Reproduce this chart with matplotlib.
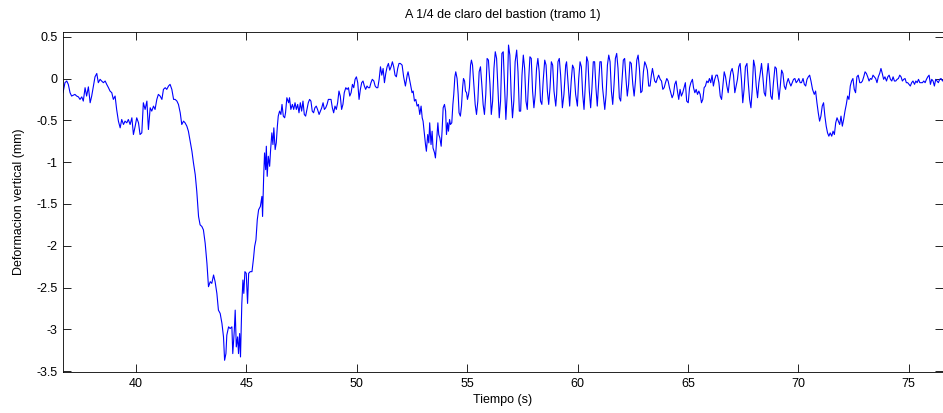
import matplotlib.pyplot as plt
import matplotlib as mpl
import numpy as np

mpl.rcParams['font.family'] = ['Liberation Sans', 'DejaVu Sans']
mpl.rcParams['font.size'] = 9

# tramo inicial (36.7 - 41.7 s)
t_inicio = [36.69, 36.78, 36.86, 36.93, 37.01, 37.08, 37.23, 37.31, 37.39, 37.46, 37.54, 37.61, 37.69,
            37.76, 37.84, 37.92, 37.99, 38.07, 38.14, 38.22, 38.29, 38.37, 38.44, 38.52, 38.60, 38.67,
            38.75, 38.82, 38.90, 38.97, 39.05, 39.12, 39.20, 39.28, 39.35, 39.43, 39.50, 39.58, 39.65,
            39.73, 39.81, 39.88, 39.96, 40.03, 40.11, 40.18, 40.26, 40.33, 40.41, 40.49, 40.56, 40.64,
            40.71, 40.79, 40.86, 40.94, 41.01, 41.09, 41.17, 41.24, 41.32, 41.39, 41.47, 41.54, 41.62,
            41.70]
d_inicio = [-0.17, -0.05, -0.03, -0.07, -0.17, -0.21, -0.19, -0.21, -0.22, -0.25, -0.22, -0.27, -0.11,
            -0.21, -0.10, -0.29, -0.21, -0.09, 0.02, 0.06, -0.05, -0.01, -0.03, -0.05, -0.03, -0.07,
            -0.11, -0.15, -0.17, -0.25, -0.21, -0.37, -0.51, -0.59, -0.49, -0.55, -0.51, -0.53, -0.49,
            -0.55, -0.47, -0.67, -0.57, -0.47, -0.53, -0.67, -0.65, -0.29, -0.37, -0.27, -0.61, -0.35,
            -0.39, -0.33, -0.37, -0.25, -0.19, -0.21, -0.25, -0.13, -0.11, -0.13, -0.09, -0.07, -0.13,
            -0.25]

# gran descenso (41.8 - 46.7 s)
t_valle = [41.77, 41.85, 41.92, 42.00, 42.07, 42.15, 42.22, 42.30, 42.37, 42.45, 42.53, 42.60, 42.68,
           42.75, 42.83, 42.90, 42.98, 43.05, 43.13, 43.21, 43.28, 43.36, 43.43, 43.51, 43.58, 43.66,
           43.73, 43.81, 43.89, 43.96, 44.01, 44.07, 44.11, 44.19, 44.26, 44.34, 44.38, 44.45, 44.49,
           44.54, 44.60, 44.64, 44.69, 44.73, 44.79, 44.84, 44.88, 44.93, 44.99, 45.05, 45.10, 45.17,
           45.25, 45.32, 45.37, 45.43, 45.49, 45.55, 45.63, 45.70, 45.73, 45.78, 45.82, 45.87, 45.90,
           45.94, 45.99, 46.05, 46.09, 46.15, 46.20, 46.24, 46.30, 46.35, 46.40, 46.44, 46.50, 46.56,
           46.61, 46.67, 46.73]
d_valle = [-0.25, -0.27, -0.31, -0.41, -0.55, -0.51, -0.53, -0.57, -0.63, -0.75, -0.87, -1.01, -1.15,
           -1.35, -1.65, -1.75, -1.77, -1.81, -1.97, -2.21, -2.49, -2.43, -2.45, -2.35, -2.43, -2.57,
           -2.77, -2.81, -2.93, -3.09, -3.37, -3.29, -3.07, -2.97, -2.99, -2.97, -3.29, -3.01, -2.77,
           -3.21, -3.09, -3.29, -3.05, -3.33, -2.69, -2.41, -2.57, -2.31, -2.33, -2.69, -2.33, -2.31,
           -2.31, -2.15, -2.01, -1.93, -1.69, -1.57, -1.53, -1.41, -1.65, -1.17, -0.89, -1.09, -0.81,
           -1.17, -0.93, -1.05, -0.87, -0.65, -0.79, -0.59, -0.85, -0.77, -0.57, -0.45, -0.39, -0.43,
           -0.31, -0.45, -0.47]

# recuperacion (46.8 - 52.0 s)
t_medio = [46.77, 46.83, 46.91, 46.95, 47.01, 47.08, 47.14, 47.20, 47.26, 47.32, 47.38, 47.44, 47.50,
           47.56, 47.62, 47.68, 47.74, 47.80, 47.86, 47.92, 47.98, 48.04, 48.10, 48.16, 48.22, 48.29,
           48.35, 48.41, 48.47, 48.53, 48.59, 48.65, 48.71, 48.77, 48.83, 48.89, 48.95, 49.01, 49.07,
           49.13, 49.19, 49.25, 49.31, 49.37, 49.43, 49.50, 49.56, 49.62, 49.68, 49.74, 49.80, 49.86,
           49.92, 49.98, 50.04, 50.10, 50.16, 50.22, 50.28, 50.34, 50.40, 50.46, 50.52, 50.58, 50.64,
           50.70, 50.77, 50.83, 50.89, 50.95, 51.01, 51.07, 51.13, 51.19, 51.25, 51.31, 51.37, 51.43,
           51.49, 51.55, 51.61, 51.67, 51.73, 51.79, 51.85, 51.91]
d_medio = [-0.41, -0.23, -0.29, -0.23, -0.37, -0.31, -0.37, -0.29, -0.37, -0.31, -0.41, -0.29, -0.39,
           -0.27, -0.43, -0.45, -0.37, -0.29, -0.25, -0.27, -0.39, -0.41, -0.35, -0.33, -0.37, -0.43,
           -0.39, -0.35, -0.29, -0.37, -0.35, -0.31, -0.25, -0.25, -0.25, -0.35, -0.41, -0.33, -0.37,
           -0.29, -0.15, -0.21, -0.37, -0.31, -0.17, -0.11, -0.13, -0.11, -0.21, -0.17, -0.07, -0.11,
           -0.01, 0.02, -0.05, -0.25, -0.13, -0.05, -0.03, -0.09, -0.13, -0.09, -0.11, -0.11, -0.05,
           -0.01, -0.03, -0.09, -0.11, -0.11, -0.01, 0.14, 0.04, 0.12, -0.05, 0.06, 0.14, 0.18,
           0.10, 0.14, 0.20, 0.14, 0.04, 0.02, 0.12, 0.18]

# segunda bajada y oscilaciones (52.0 - 59.2 s)
t_osc = [51.97, 52.05, 52.12, 52.20, 52.28, 52.32, 52.38, 52.43, 52.50, 52.55, 52.61, 52.67, 52.73,
         52.79, 52.85, 52.91, 52.96, 53.00, 53.06, 53.11, 53.15, 53.21, 53.26, 53.30, 53.36, 53.41,
         53.45, 53.52, 53.56, 53.61, 53.67, 53.71, 53.76, 53.82, 53.86, 53.91, 53.97, 54.02, 54.06,
         54.11, 54.15, 54.20, 54.24, 54.30, 54.35, 54.39, 54.44, 54.48, 54.54, 54.59, 54.63, 54.69,
         54.74, 54.79, 54.83, 54.88, 54.92, 54.97, 55.01, 55.06, 55.10, 55.15, 55.19, 55.24, 55.30,
         55.36, 55.42, 55.48, 55.54, 55.60, 55.66, 55.72, 55.78, 55.84, 55.90, 55.96, 56.03, 56.09,
         56.15, 56.21, 56.27, 56.33, 56.39, 56.45, 56.51, 56.57, 56.63, 56.69, 56.75, 56.81, 56.87,
         56.93, 56.99, 57.05, 57.11, 57.17, 57.24, 57.30, 57.36, 57.42, 57.48, 57.54, 57.60, 57.66,
         57.72, 57.78, 57.84, 57.90, 57.96, 58.02, 58.08, 58.14, 58.20, 58.26, 58.32, 58.38, 58.44,
         58.51, 58.57, 58.63, 58.69, 58.75, 58.81, 58.87, 58.93, 59.01, 59.05, 59.11, 59.17]
d_osc = [0.18, 0.16, 0.02, -0.09, 0.04, 0.08, 0.00, -0.07, -0.17, -0.15, -0.27, -0.25, -0.33,
         -0.31, -0.43, -0.33, -0.47, -0.51, -0.67, -0.79, -0.87, -0.67, -0.77, -0.53, -0.79, -0.63,
         -0.83, -0.89, -0.95, -0.75, -0.53, -0.67, -0.71, -0.81, -0.63, -0.35, -0.31, -0.39, -0.67,
         -0.53, -0.63, -0.49, -0.55, -0.53, -0.31, -0.19, 0.02, 0.08, 0.00, -0.19, -0.41, -0.45,
         -0.33, -0.11, 0.00, -0.03, -0.15, -0.17, -0.25, -0.19, -0.11, 0.16, 0.22, 0.16, -0.07,
         -0.31, -0.43, -0.27, 0.08, 0.14, -0.07, -0.31, -0.43, -0.19, 0.24, 0.22, -0.07, -0.43,
         -0.27, 0.12, 0.32, 0.24, -0.11, -0.47, -0.27, 0.30, 0.32, -0.07, -0.49, -0.19, 0.40,
         0.28, -0.19, -0.47, -0.27, 0.20, 0.34, 0.08, -0.39, -0.39, 0.04, 0.28, 0.12, -0.27,
         -0.37, -0.03, 0.26, 0.24, -0.15, -0.35, -0.19, 0.12, 0.24, 0.08, -0.27, -0.31, -0.03,
         0.22, 0.16, -0.15, -0.31, -0.11, 0.20, 0.16, -0.15, -0.33, -0.19, 0.20, 0.24]

# oscilaciones que se amortiguan (59.2 - 65.1 s)
t_amort = [59.23, 59.31, 59.38, 59.46, 59.50, 59.58, 59.64, 59.71, 59.77, 59.83, 59.91, 59.99, 60.05,
           60.11, 60.17, 60.23, 60.29, 60.35, 60.41, 60.47, 60.53, 60.59, 60.65, 60.71, 60.77, 60.83,
           60.89, 60.95, 61.01, 61.07, 61.13, 61.23, 61.29, 61.35, 61.41, 61.47, 61.53, 61.59, 61.65,
           61.71, 61.77, 61.83, 61.89, 61.95, 62.01, 62.07, 62.13, 62.19, 62.25, 62.31, 62.37, 62.43,
           62.50, 62.56, 62.62, 62.68, 62.74, 62.80, 62.86, 62.92, 62.98, 63.04, 63.10, 63.16, 63.22,
           63.28, 63.34, 63.39, 63.43, 63.49, 63.55, 63.61, 63.67, 63.74, 63.80, 63.86, 63.92, 63.98,
           64.04, 64.10, 64.16, 64.22, 64.28, 64.34, 64.40, 64.46, 64.52, 64.58, 64.64, 64.70, 64.76,
           64.82, 64.88, 64.94, 65.01, 65.07]
d_amort = [0.04, -0.35, -0.19, 0.16, 0.20, -0.11, -0.33, -0.03, 0.16, 0.12, -0.19, -0.33, 0.00,
           0.20, 0.14, -0.19, -0.37, -0.07, 0.26, 0.20, -0.15, -0.35, -0.11, 0.20, 0.20, -0.11,
           -0.33, -0.07, 0.20, 0.20, -0.11, -0.37, -0.19, 0.16, 0.28, 0.20, -0.15, -0.31, -0.07,
           0.24, 0.30, 0.12, -0.23, -0.27, -0.03, 0.22, 0.24, 0.00, -0.21, -0.07, 0.20, 0.18,
           -0.07, -0.21, -0.03, 0.22, 0.28, 0.12, -0.17, -0.15, 0.08, 0.20, 0.16, 0.10, -0.09,
           -0.09, 0.04, 0.12, 0.06, -0.03, -0.05, 0.00, 0.04, -0.01, -0.03, -0.13, -0.11, -0.05,
           0.00, -0.03, -0.11, -0.17, -0.23, -0.19, -0.07, -0.03, -0.15, -0.25, -0.13, -0.21, -0.17,
           -0.11, -0.05, -0.27, -0.29, -0.11]

# final (65.1 - 76.65 s)
t_final = [65.13, 65.20, 65.25, 65.31, 65.37, 65.43, 65.49, 65.55, 65.61, 65.67, 65.73, 65.79, 65.85,
           65.91, 65.97, 66.03, 66.09, 66.15, 66.21, 66.27, 66.33, 66.40, 66.46, 66.52, 66.58, 66.64,
           66.70, 66.76, 66.82, 66.88, 66.94, 67.00, 67.06, 67.12, 67.18, 67.24, 67.30, 67.36, 67.42,
           67.48, 67.54, 67.60, 67.67, 67.73, 67.79, 67.85, 67.91, 67.97, 68.03, 68.09, 68.15, 68.21,
           68.27, 68.33, 68.39, 68.45, 68.51, 68.57, 68.63, 68.69, 68.75, 68.81, 68.87, 68.94, 69.00,
           69.06, 69.12, 69.18, 69.24, 69.30, 69.36, 69.42, 69.48, 69.54, 69.60, 69.66, 69.72, 69.78,
           69.84, 69.90, 69.96, 70.02, 70.08, 70.14, 70.21, 70.27, 70.33, 70.39, 70.45, 70.51, 70.57,
           70.64, 70.72, 70.78, 70.84, 70.90, 70.96, 71.02, 71.08, 71.14, 71.20, 71.26, 71.32, 71.38,
           71.44, 71.51, 71.57, 71.63, 71.69, 71.75, 71.81, 71.87, 71.93, 71.99, 72.05, 72.11, 72.17,
           72.23, 72.29, 72.35, 72.41, 72.47, 72.53, 72.59, 72.65, 72.71, 72.78, 72.84, 72.90, 72.96,
           73.02, 73.08, 73.14, 73.20, 73.26, 73.32, 73.38, 73.44, 73.50, 73.56, 73.62, 73.68, 73.74,
           73.80, 73.86, 73.92, 73.99, 74.05, 74.11, 74.17, 74.23, 74.29, 74.35, 74.41, 74.47, 74.53,
           74.59, 74.65, 74.71, 74.77, 74.83, 74.89, 74.95, 75.01, 75.07, 75.13, 75.19, 75.26, 75.32,
           75.38, 75.44, 75.50, 75.56, 75.62, 75.68, 75.74, 75.80, 75.86, 75.92, 75.98, 76.04, 76.10,
           76.16, 76.22, 76.28, 76.34, 76.40, 76.46, 76.53, 76.59, 76.65]
d_final = [-0.05, -0.01, -0.11, -0.17, -0.13, -0.19, -0.15, -0.19, -0.29, -0.25, -0.11, -0.09, -0.03,
           -0.05, 0.00, -0.05, 0.04, -0.09, -0.01, 0.04, 0.04, -0.05, -0.21, -0.25, -0.09, 0.08,
           0.02, -0.09, -0.17, -0.03, 0.08, 0.12, 0.04, -0.17, -0.09, -0.01, 0.14, 0.18, -0.01,
           -0.29, -0.13, 0.14, 0.18, -0.05, -0.25, -0.35, -0.13, 0.22, 0.14, -0.09, -0.23, -0.05,
           0.06, 0.18, 0.02, -0.17, -0.21, 0.02, 0.18, 0.02, -0.21, -0.25, -0.05, 0.14, 0.12,
           -0.09, -0.25, -0.09, 0.10, 0.06, -0.09, -0.13, -0.05, 0.00, -0.05, -0.09, -0.05, -0.01,
           0.00, -0.05, -0.03, 0.00, -0.05, -0.05, 0.00, -0.07, -0.09, -0.01, 0.02, 0.04, -0.03,
           -0.13, -0.19, -0.15, -0.29, -0.41, -0.51, -0.45, -0.33, -0.29, -0.45, -0.57, -0.65, -0.69,
           -0.65, -0.69, -0.63, -0.67, -0.53, -0.47, -0.51, -0.55, -0.45, -0.57, -0.49, -0.39, -0.31,
           -0.21, -0.25, -0.09, -0.03, 0.00, -0.13, -0.17, 0.02, 0.04, -0.05, -0.05, -0.03, 0.02,
           0.08, 0.06, 0.02, -0.03, 0.00, -0.01, 0.04, 0.02, 0.00, -0.05, 0.02, 0.06, 0.12,
           0.06, -0.01, 0.02, -0.03, 0.02, 0.04, -0.01, -0.03, 0.02, -0.03, -0.03, -0.01, 0.00,
           0.04, 0.02, -0.03, -0.01, 0.00, -0.05, -0.05, -0.07, -0.09, -0.05, -0.03, -0.07, -0.03,
           -0.05, -0.01, -0.05, -0.05, -0.05, -0.03, -0.05, -0.01, 0.02, 0.04, -0.07, -0.01, -0.03,
           -0.09, -0.01, -0.03, -0.05, -0.01, 0.00, -0.03, -0.01, -0.01]

tiempo = np.concatenate([t_inicio, t_valle, t_medio, t_osc, t_amort, t_final])
deform = np.concatenate([d_inicio, d_valle, d_medio, d_osc, d_amort, d_final])

fig = plt.figure(figsize=(9.43, 4.13), dpi=100)
ax = fig.add_axes([0.0668, 0.0993, 0.9332, 0.8240])
ax.plot(tiempo, deform, color='#0000ff', linewidth=0.8)

ax.set_xlim(36.69, 76.55)
ax.set_ylim(-3.51, 0.56)
ax.set_xticks([40, 45, 50, 55, 60, 65, 70, 75])
ax.set_yticks([-3.5, -3, -2.5, -2, -1.5, -1, -0.5, 0, 0.5])
ax.set_yticklabels(['-3.5', '-3', '-2.5', '-2', '-1.5', '-1', '-0.5', '0', '0.5'])
ax.tick_params(direction='in', length=6, width=0.6, top=True, right=True, labelsize=9, pad=4)
for s in ax.spines.values():
    s.set_linewidth(0.6)

ax.set_title('A 1/4 de claro del bastion (tramo 1)', fontsize=9, pad=10)
ax.set_xlabel('Tiempo (s)', fontsize=9, labelpad=3)
ax.set_ylabel('Deformacion vertical (mm)', fontsize=9, labelpad=8)

fig.savefig('out.png', dpi=100)
